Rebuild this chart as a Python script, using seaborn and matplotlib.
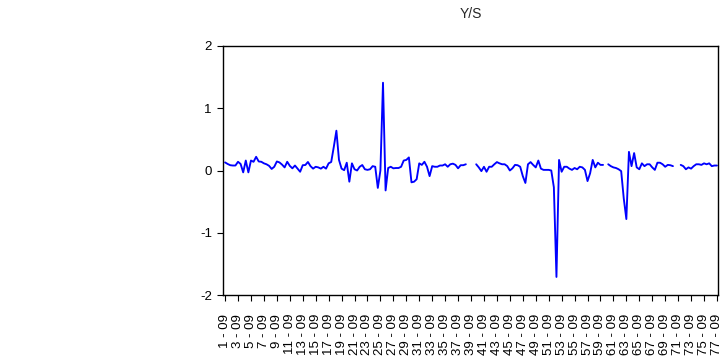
import numpy as np
import pandas as pd
import matplotlib
matplotlib.use("Agg")
import matplotlib.pyplot as plt
import seaborn as sns

nan = np.nan

# Series Y/S, one value per observation (NaN = missing observation)
values = [
    0.13, 0.105, 0.085, 0.08, 0.08, 0.14, 0.105, -0.03, 0.16, -0.03,
    0.16, 0.14, 0.22, 0.145, 0.14, 0.115, 0.10, 0.075, 0.025, 0.06,
    0.145, 0.13, 0.095, 0.05, 0.14, 0.075, 0.035, 0.08, 0.03, -0.02,
    0.085, 0.088, 0.137, 0.07, 0.03, 0.06, 0.05, 0.03, 0.06, 0.03,
    0.115, 0.137, 0.38, 0.64, 0.17, 0.03, 0.005, 0.125, -0.18, 0.115,
    0.02, 0.0, 0.06, 0.088, 0.02, 0.01, 0.02, 0.07, 0.06, -0.28,
    0.0, 1.41, -0.32, 0.04, 0.06, 0.035, 0.04, 0.04, 0.06, 0.16,
    0.17, 0.21, -0.19, -0.18, -0.14, 0.115, 0.09, 0.14, 0.06, -0.09,
    0.07, 0.06, 0.06, 0.08, 0.08, 0.10, 0.06, 0.10, 0.11, 0.09,
    0.035, 0.085, 0.085, 0.10, nan, nan, nan, 0.10, 0.05, -0.01,
    0.06, -0.02, 0.06, 0.06, 0.10, 0.135, 0.115, 0.10, 0.10, 0.07,
    0.0, 0.035, 0.09, 0.085, 0.06, -0.09, -0.2, 0.10, 0.135, 0.09,
    0.05, 0.16, 0.03, 0.01, 0.01, 0.01, 0.0, -0.27, -1.71, 0.17,
    -0.02, 0.06, 0.06, 0.03, 0.01, 0.04, 0.02, 0.06, 0.05, 0.01,
    -0.17, -0.045, 0.17, 0.05, 0.125, 0.09, 0.09, nan, 0.10, 0.07,
    0.05, 0.04, 0.02, -0.01, -0.45, -0.78, 0.30, 0.07, 0.28, 0.05,
    0.02, 0.115, 0.07, 0.10, 0.10, 0.05, 0.01, 0.125, 0.125, 0.10,
    0.06, 0.09, 0.085, 0.07, nan, nan, 0.09, 0.07, 0.02, 0.05,
    0.03, 0.07, 0.10, 0.10, 0.09, 0.115, 0.10, 0.115, 0.07, 0.08,
    0.08,
]

tick_labels = [
    "1 - 09", "3 - 09", "5 - 09", "7 - 09", "9 - 09", "11 - 09", "13 - 09",
    "15 - 09", "17 - 09", "19 - 09", "21 - 09", "23 - 09", "25 - 09",
    "27 - 09", "29 - 09", "31 - 09", "33 - 09", "35 - 09", "37 - 09",
    "39 - 09", "41 - 09", "43 - 09", "45 - 09", "47 - 09", "49 - 09",
    "51 - 09", "53 - 09", "55 - 09", "57 - 09", "59 - 09", "61 - 09",
    "63 - 09", "65 - 09", "67 - 09", "69 - 09", "71 - 09", "73 - 09",
    "75 - 09", "77 - 09",
]
obs_per_label = 5
y_ticks = [-2, -1, 0, 1, 2]
title = "Y/S"

sns.set_style("white")
plt.rcParams['font.family'] = ['Liberation Sans', 'DejaVu Sans']
plt.rcParams['axes.unicode_minus'] = False

fig = plt.figure(figsize=(7.26, 3.56), dpi=100)
ax = fig.add_axes([223 / 726, 1 - 295 / 356, (718 - 223) / 726, (295 - 46) / 356])

df = pd.DataFrame({'obs': np.arange(len(values)), 'value': values})
df['seg'] = df['value'].isna().cumsum()
df = df.dropna()

sns.lineplot(data=df, x='obs', y='value', units='seg', estimator=None,
             color='#0000FF', linewidth=1.35, ax=ax, legend=False)

ax.set_xlim(-0.8, len(values) - 1 + 0.4)
ax.set_ylim(-2, 2)
ax.set_yticks(y_ticks)
ax.set_yticklabels([str(t) for t in y_ticks])
ax.set_xticks([k * obs_per_label for k in range(len(tick_labels))])
ax.set_xticklabels(tick_labels, rotation=90)
ax.set_xlabel('')
ax.set_ylabel('')
ax.set_title(title, fontsize=10, pad=20)

for s in ax.spines.values():
    s.set_visible(True)
    s.set_color('black')
    s.set_linewidth(1.0)

ax.tick_params(direction='out', length=4, width=0.8, colors='black',
               labelsize=9.5, bottom=True, left=True, top=False, right=False)
ax.tick_params(axis='x', pad=9.5)
ax.tick_params(axis='y', pad=4)

fig.savefig('out.png', dpi=100)
